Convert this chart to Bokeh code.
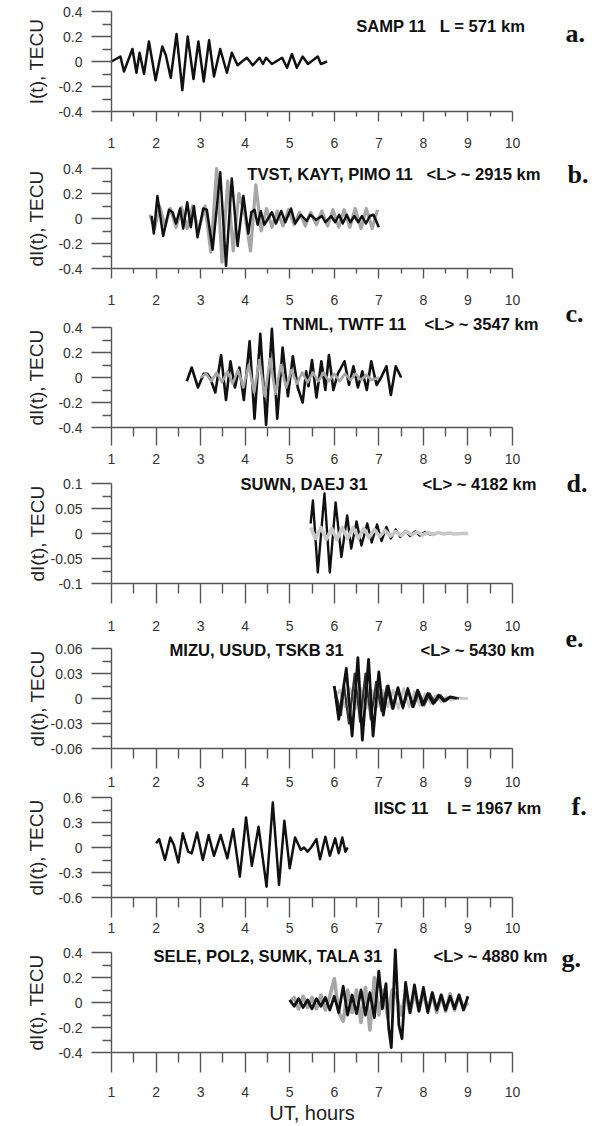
from bokeh.plotting import figure
from bokeh.models import FixedTicker, Label, Range1d, LinearAxis
from bokeh.embed import file_html
from bokeh.resources import INLINE

# ---------------- data ----------------
x_ticks = [1, 2, 3, 4, 5, 6, 7, 8, 9, 10]
x_tick_labels = ["1", "2", "3", "4", "5", "6", "7", "8", "9", "10"]
x_minor = [1.5, 2.5, 3.5, 4.5, 5.5, 6.5, 7.5, 8.5, 9.5]

y_ticks_04 = [-0.4, -0.2, 0, 0.2, 0.4]
y_labels_04 = ["-0.4", "-0.2", "0", "0.2", "0.4"]
y_minor_04 = [-0.3, -0.1, 0.1, 0.3]
y_ticks_01 = [-0.1, -0.05, 0, 0.05, 0.1]
y_labels_01 = ["-0.1", "-0.05", "0", "0.05", "0.1"]
y_minor_01 = [-0.075, -0.025, 0.025, 0.075]
y_ticks_006 = [-0.06, -0.03, 0, 0.03, 0.06]
y_labels_006 = ["-0.06", "-0.03", "0", "0.03", "0.06"]
y_minor_006 = [-0.045, -0.015, 0.015, 0.045]
y_ticks_06 = [-0.6, -0.3, 0, 0.3, 0.6]
y_labels_06 = ["-0.6", "-0.3", "0", "0.3", "0.6"]
y_minor_06 = [-0.45, -0.15, 0.15, 0.45]

# panel a: SAMP 11
a_t = [1.00, 1.20, 1.28, 1.47, 1.56, 1.63, 1.73, 1.84, 1.99, 2.14, 2.22, 2.33, 2.46, 2.59, 2.71, 2.84,
       2.95, 3.07, 3.19, 3.30, 3.44, 3.59, 3.70, 3.83, 3.93, 4.04, 4.17, 4.32, 4.40, 4.47, 4.60, 4.83,
       4.94, 5.05, 5.16, 5.29, 5.41, 5.52, 5.63, 5.70, 5.84]
a_v = [0.00, 0.04, -0.08, 0.10, -0.09, 0.07, -0.10, 0.16, -0.15, 0.12, 0.05, -0.13, 0.22, -0.23, 0.20, -0.14,
       0.16, -0.16, 0.17, -0.12, 0.10, -0.09, 0.07, -0.03, 0.00, 0.03, -0.03, 0.03, -0.02, 0.03, -0.02, 0.03,
       -0.05, 0.06, -0.05, 0.04, -0.02, 0.01, 0.04, -0.02, 0.00]

# panel b: TVST, KAYT, PIMO 11
b1_t = [1.90, 1.95, 2.03, 2.16, 2.29, 2.37, 2.45, 2.54, 2.61, 2.70, 2.78, 2.85, 2.93, 3.06, 3.14, 3.27,
        3.44, 3.57, 3.70, 3.83, 3.96, 4.07, 4.14, 4.21, 4.28, 4.35, 4.43, 4.60, 4.69, 4.81, 4.90, 5.03,
        5.12, 5.25, 5.38, 5.46, 5.59, 5.72, 5.80, 5.93, 6.02, 6.11, 6.19, 6.28, 6.36, 6.45, 6.54, 6.62,
        6.71, 6.80, 6.88, 7.00]
b1_v = [0.02, -0.12, 0.18, -0.14, 0.07, 0.05, -0.04, 0.08, -0.08, 0.13, -0.07, 0.10, -0.15, 0.08, 0.07, -0.25,
        0.37, -0.38, 0.32, -0.22, 0.18, -0.12, 0.05, 0.07, -0.05, 0.06, -0.05, 0.05, -0.04, 0.06, -0.03, 0.08,
        -0.04, 0.03, -0.02, 0.03, -0.01, 0.02, -0.03, 0.02, -0.03, 0.03, -0.04, 0.03, -0.03, 0.02, -0.03, 0.02,
        -0.04, 0.02, 0.03, -0.07]
b2_t = [1.86, 1.97, 2.08, 2.20, 2.32, 2.45, 2.57, 2.70, 2.82, 2.95, 3.10, 3.23, 3.36, 3.48, 3.61, 3.73,
        3.86, 4.00, 4.12, 4.24, 4.36, 4.48, 4.60, 4.72, 4.85, 4.97, 5.10, 5.22, 5.35, 5.47, 5.60, 5.72,
        5.85, 5.97, 6.10, 6.22, 6.35, 6.47, 6.60, 6.72, 6.85, 6.97]
b2_v = [0.03, -0.08, 0.10, -0.06, 0.08, -0.07, 0.09, -0.08, 0.10, -0.10, 0.10, -0.27, 0.40, -0.35, 0.30, -0.26,
        0.20, 0.02, -0.26, 0.27, -0.10, 0.08, -0.07, 0.06, -0.06, 0.07, -0.05, 0.05, -0.06, 0.05, -0.05, 0.06,
        -0.06, 0.07, -0.07, 0.07, -0.07, 0.08, -0.08, 0.08, -0.08, 0.07]

# panel c: TNML, TWTF 11
c1_t = [2.69, 2.80, 2.94, 3.07, 3.15, 3.21, 3.33, 3.46, 3.57, 3.67, 3.77, 3.87, 3.97, 4.10, 4.21, 4.34,
        4.47, 4.60, 4.72, 4.84, 4.96, 5.07, 5.18, 5.29, 5.37, 5.42, 5.50, 5.60, 5.71, 5.80, 5.88, 5.98,
        6.08, 6.23, 6.33, 6.43, 6.53, 6.63, 6.73, 6.83, 6.95, 7.05, 7.17, 7.27, 7.38, 7.50]
c1_v = [-0.03, 0.08, -0.08, 0.03, 0.03, 0.00, -0.12, 0.18, -0.18, 0.13, -0.08, 0.08, -0.18, 0.29, -0.33, 0.35,
        -0.38, 0.39, -0.33, 0.24, -0.15, 0.17, -0.08, -0.20, 0.05, -0.07, 0.14, -0.16, 0.13, -0.10, 0.18, -0.10,
        0.03, 0.13, -0.06, 0.09, -0.08, 0.05, -0.10, 0.13, -0.06, 0.00, 0.09, -0.14, 0.09, 0.00]
c2_t = [3.00, 3.12, 3.24, 3.36, 3.48, 3.60, 3.72, 3.84, 3.96, 4.08, 4.20, 4.32, 4.44, 4.56, 4.68, 4.80,
        4.92, 5.04, 5.16, 5.28, 5.40, 5.52, 5.64, 5.76, 5.88, 6.00, 6.12, 6.24, 6.36, 6.48, 6.60, 6.72,
        6.84, 7.00]
c2_v = [0.00, 0.03, -0.03, 0.04, -0.04, 0.05, -0.05, 0.06, -0.08, 0.10, -0.12, 0.14, -0.15, 0.15, -0.13, 0.10,
        -0.08, 0.06, -0.05, 0.04, -0.04, 0.04, -0.03, 0.04, -0.03, 0.03, -0.03, 0.03, -0.02, 0.03, -0.02, 0.02,
        -0.02, 0.00]

# panel d: SUWN, DAEJ 31
d1_t = [5.47, 5.52, 5.63, 5.78, 5.90, 6.03, 6.16, 6.29, 6.38, 6.50, 6.61, 6.74, 6.84, 6.96, 7.06, 7.17,
        7.27, 7.38, 7.48, 7.60, 7.70, 7.82, 7.92, 8.04, 8.15, 8.22]
d1_v = [0.020, 0.066, -0.078, 0.080, -0.078, 0.062, -0.047, 0.036, -0.030, 0.024, -0.024, 0.020, -0.018,
        0.018, -0.015, 0.013, -0.010, 0.008, -0.007, 0.005, -0.005, 0.004, -0.004, 0.003, -0.002, 0.000]
d2_t = [5.47, 5.58, 5.70, 5.82, 5.94, 6.06, 6.18, 6.30, 6.42, 6.54, 6.66, 6.78, 6.90, 7.02, 7.14, 7.26,
        7.38, 7.50, 7.62, 7.74, 7.86, 7.98, 8.10, 8.22, 8.34, 8.46, 8.58, 8.70, 8.85, 9.00]
d2_v = [0.012, -0.010, 0.012, -0.012, 0.010, -0.012, 0.012, -0.010, 0.012, -0.010, 0.010, -0.008, 0.008,
        -0.006, 0.006, -0.005, 0.004, -0.004, 0.004, -0.003, 0.003, -0.003, 0.002, -0.002, 0.002, -0.001,
        0.001, -0.001, 0.000, 0.000]

# panel e: MIZU, USUD, TSKB 31
e1_t = [6.00, 6.10, 6.27, 6.40, 6.53, 6.63, 6.77, 6.87, 7.00, 7.10, 7.21, 7.32, 7.43, 7.54, 7.65, 7.76,
        7.87, 7.98, 8.10, 8.22, 8.34, 8.46, 8.60, 8.75]
e1_v = [0.015, -0.025, 0.036, -0.045, 0.049, -0.050, 0.047, -0.045, 0.032, -0.020, 0.015, -0.012, 0.013,
        -0.010, 0.012, -0.010, 0.010, -0.008, 0.006, -0.006, 0.004, -0.003, 0.002, 0.000]
e2_t = [6.02, 6.15, 6.22, 6.33, 6.46, 6.58, 6.70, 6.82, 6.94, 7.06, 7.18, 7.30, 7.42, 7.54, 7.66, 7.78,
        7.90, 8.02, 8.14, 8.26, 8.38, 8.50, 8.62, 8.80]
e2_v = [0.010, -0.020, 0.015, -0.030, 0.030, -0.028, 0.030, -0.025, 0.020, -0.015, 0.015, -0.012, 0.012,
        -0.012, 0.010, -0.010, 0.008, -0.008, 0.006, -0.005, 0.004, -0.003, 0.002, 0.000]
e3_t = [6.00, 6.12, 6.24, 6.36, 6.48, 6.60, 6.72, 6.84, 6.96, 7.08, 7.20, 7.32, 7.44, 7.56, 7.68, 7.80,
        7.92, 8.04, 8.16, 8.28, 8.40, 8.52, 8.64, 8.76, 8.88, 9.00]
e3_v = [0.000, 0.010, -0.010, 0.012, -0.012, 0.012, -0.012, 0.010, -0.010, 0.010, -0.010, 0.010, -0.012,
        0.012, -0.010, 0.008, -0.008, 0.006, -0.006, 0.004, -0.004, 0.002, -0.002, 0.001, 0.000, 0.000]

# panel f: IISC 11
f1_t = [2.00, 2.07, 2.20, 2.32, 2.40, 2.50, 2.60, 2.72, 2.80, 2.92, 3.05, 3.18, 3.30, 3.45, 3.60, 3.73,
        3.88, 4.02, 4.15, 4.30, 4.48, 4.62, 4.76, 4.88, 5.00, 5.12, 5.25, 5.32, 5.40, 5.48, 5.60, 5.68,
        5.80, 5.90, 6.02, 6.10, 6.18, 6.25, 6.30]
f1_v = [0.05, 0.10, -0.15, 0.12, 0.03, -0.18, 0.17, -0.05, -0.07, 0.18, -0.15, 0.15, -0.10, 0.15, -0.13, 0.22,
        -0.35, 0.36, -0.22, 0.25, -0.47, 0.54, -0.45, 0.32, -0.25, 0.12, -0.03, 0.00, -0.05, 0.00, 0.10, -0.14,
        0.13, -0.10, 0.11, -0.07, 0.12, -0.05, 0.00]

# panel g: SELE, POL2, SUMK, TALA 31
g1_t = [5.00, 5.10, 5.20, 5.30, 5.40, 5.50, 5.60, 5.70, 5.80, 5.90, 6.00, 6.10, 6.20, 6.30, 6.40, 6.50,
        6.60, 6.70, 6.80, 6.90, 7.00, 7.08, 7.16, 7.22, 7.28, 7.37, 7.45, 7.52, 7.60, 7.70, 7.80, 7.90,
        8.00, 8.10, 8.20, 8.30, 8.40, 8.50, 8.60, 8.70, 8.80, 8.90, 9.00]
g1_v = [0.02, -0.03, 0.03, -0.04, 0.02, -0.05, 0.03, -0.03, 0.04, -0.06, 0.05, -0.08, 0.13, -0.10, 0.06, -0.09,
        0.10, -0.10, 0.08, -0.12, 0.25, -0.05, 0.15, -0.20, -0.36, 0.42, -0.18, -0.29, 0.16, -0.08, 0.14, -0.07,
        0.12, -0.08, 0.08, -0.06, 0.06, -0.06, 0.05, -0.05, 0.06, -0.06, 0.05]
g2_t = [5.00, 5.10, 5.20, 5.30, 5.40, 5.50, 5.60, 5.70, 5.80, 5.90, 6.00, 6.10, 6.20, 6.30, 6.40, 6.50,
        6.60, 6.70, 6.80, 6.90, 7.00, 7.10, 7.20, 7.30, 7.40, 7.50, 7.60, 7.70, 7.80, 7.90, 8.00, 8.10,
        8.20, 8.30, 8.40, 8.50, 8.60, 8.70, 8.80, 8.90, 9.00]
g2_v = [0.00, 0.04, -0.05, 0.05, -0.04, 0.04, -0.05, 0.06, -0.06, 0.05, 0.19, -0.08, -0.15, 0.10, -0.08, 0.10,
        -0.16, 0.12, -0.22, 0.20, -0.10, 0.10, -0.12, 0.10, 0.05, -0.10, 0.08, -0.08, 0.08, -0.06, 0.08, -0.07,
        0.07, -0.08, 0.06, -0.07, 0.07, -0.06, 0.06, -0.05, 0.00]

# ---------------- styling / layout ----------------
W, H = 598, 1126
AX_L = 111          # px of x = 1
AX_W = 401          # px from x = 1 to x = 10
AX_H = 100          # px from ymin to ymax of each panel
UNIT = AX_W / 9.0
AX = "#555555"
FONT = "Liberation Sans"
BLACK = "#111111"
SP = "\u00a0"


def xd(px):
    return 1 + (px - AX_L) / UNIT


p = figure(width=W, height=H, x_range=Range1d(xd(0), xd(W)), y_range=Range1d(H, 0),
           output_backend="svg", toolbar_location=None,
           x_axis_location=None, y_axis_location=None,
           min_border_left=0, min_border_right=0, min_border_top=0, min_border_bottom=0)
p.outline_line_color = None
p.background_fill_color = "white"
p.border_fill_color = "white"
p.xgrid.visible = False
p.ygrid.visible = False
p.extra_y_ranges = {}


def panel(name, ax_top, yr, yticks, ylabels, yminor, ylabel, xt_out, xm_out, xstand, ylab_stand,
          xlabel=None, xlab_stand=0):
    vpp = (yr[1] - yr[0]) / AX_H
    rng = Range1d(yr[0] - (H - ax_top - AX_H) * vpp, yr[1] + ax_top * vpp)
    ranges = dict(p.extra_y_ranges)
    ranges[name] = rng
    p.extra_y_ranges = ranges

    ya = LinearAxis(y_range_name=name, fixed_location=1, bounds=yr,
                    ticker=FixedTicker(ticks=yticks, minor_ticks=yminor),
                    major_label_overrides={t: s for t, s in zip(yticks, ylabels)},
                    major_tick_in=0, minor_tick_in=0, major_tick_out=20, minor_tick_out=9,
                    major_label_standoff=9, axis_label=ylabel, axis_label_standoff=ylab_stand,
                    axis_label_text_font=FONT, axis_label_text_font_size="19px",
                    axis_label_text_font_style="normal", axis_label_text_color="#222222")
    xa = LinearAxis(y_range_name=name, fixed_location=yr[0], bounds=(1, 10),
                    ticker=FixedTicker(ticks=x_ticks, minor_ticks=x_minor),
                    major_label_overrides={t: s for t, s in zip(x_ticks, x_tick_labels)},
                    major_tick_in=0, minor_tick_in=0, major_tick_out=xt_out, minor_tick_out=xm_out,
                    major_label_standoff=xstand)
    if xlabel:
        xa.axis_label = xlabel
        xa.axis_label_standoff = xlab_stand
        xa.axis_label_text_font = FONT
        xa.axis_label_text_font_size = "20px"
        xa.axis_label_text_font_style = "normal"
        xa.axis_label_text_color = "#222222"
    for ax in (xa, ya):
        ax.axis_line_color = AX
        ax.axis_line_width = 1.4
        ax.major_tick_line_color = AX
        ax.major_tick_line_width = 1.4
        ax.minor_tick_line_color = AX
        ax.minor_tick_line_width = 1.4
        ax.major_label_text_font = FONT
        ax.major_label_text_font_size = "14px"
        ax.major_label_text_color = "#333333"
    p.add_layout(ya, "left")
    p.add_layout(xa, "below")

    def yd(py):
        return yr[1] - (py - ax_top) * vpp
    return yd


def add_text(name, yd, px, py, text, align="right"):
    p.add_layout(Label(x=xd(px), y=yd(py), y_range_name=name, text=text,
                       text_font=FONT, text_font_size="16.6px", text_font_style="bold",
                       text_align=align, text_baseline="middle", text_color="#111111"))


def add_letter(name, yd, px, py, text):
    p.add_layout(Label(x=xd(px), y=yd(py), y_range_name=name, text=text,
                       text_font="Liberation Serif", text_font_size="26px", text_font_style="bold",
                       text_align="left", text_baseline="middle", text_color="#111111"))


def trace(name, t, v, color, width):
    p.line(t, v, y_range_name=name, line_color=color, line_width=width, line_join="round")


# a
yd = panel("a", 11, (-0.4, 0.4), y_ticks_04, y_labels_04, y_minor_04, "I(t), TECU", 10, 5, 16, 8)
trace("a", a_t, a_v, BLACK, 2.5)
add_text("a", yd, 525, 26, "SAMP 11" + SP * 3 + "L = 571 km")
add_letter("a", yd, 565, 33, "a.")

# b
yd = panel("b", 168, (-0.4, 0.4), y_ticks_04, y_labels_04, y_minor_04, "dI(t), TECU", 10, 5, 16, 8)
trace("b", b2_t, b2_v, "#a6a6a6", 3.2)
trace("b", b1_t, b1_v, BLACK, 2.5)
add_text("b", yd, 540, 174, "TVST, KAYT, PIMO 11" + SP * 3 + "<L> ~ 2915 km")
add_letter("b", yd, 567, 174, "b.")

# c
yd = panel("c", 327, (-0.4, 0.4), y_ticks_04, y_labels_04, y_minor_04, "dI(t), TECU", 18, 9, 8, 8)
trace("c", c1_t, c1_v, BLACK, 2.6)
trace("c", c2_t, c2_v, "#a6a6a6", 2.6)
add_text("c", yd, 538, 324, "TNML, TWTF 11" + SP * 4 + "<L> ~ 3547 km")
add_letter("c", yd, 565, 313, "c.")

# d
yd = panel("d", 483, (-0.1, 0.1), y_ticks_01, y_labels_01, y_minor_01, "dI(t), TECU", 20, 10, 17, 0)
trace("d", d1_t, d1_v, BLACK, 2.4)
trace("d", d2_t, d2_v, "#c8c8c8", 3.6)
add_text("d", yd, 240, 484, "SUWN, DAEJ 31", align="left")
add_text("d", yd, 536, 484, "<L> ~ 4182 km")
add_letter("d", yd, 566, 483, "d.")

# e
yd = panel("e", 648, (-0.06, 0.06), y_ticks_006, y_labels_006, y_minor_006, "dI(t), TECU", 20, 10, 8, 0)
trace("e", e3_t, e3_v, "#c4c4c4", 2.6)
trace("e", e2_t, e2_v, "#333333", 2.2)
trace("e", e1_t, e1_v, BLACK, 2.8)
add_text("e", yd, 169, 650, "MIZU, USUD, TSKB 31", align="left")
add_text("e", yd, 534, 650, "<L> ~ 5430 km")
add_letter("e", yd, 565, 638, "e.")

# f
yd = panel("f", 797, (-0.6, 0.6), y_ticks_06, y_labels_06, y_minor_06, "dI(t), TECU", 20, 10, 5, 8)
trace("f", f1_t, f1_v, BLACK, 2.5)
add_text("f", yd, 541, 808, "IISC 11" + SP * 4 + "L = 1967 km")
add_letter("f", yd, 571, 806, "f.")

# g
yd = panel("g", 952, (-0.4, 0.4), y_ticks_04, y_labels_04, y_minor_04, "dI(t), TECU", 20, 10, 14, 8,
           xlabel="UT, hours", xlab_stand=2)
trace("g", g2_t, g2_v, "#a6a6a6", 3.6)
trace("g", g1_t, g1_v, BLACK, 2.8)
add_text("g", yd, 153, 956, "SELE, POL2, SUMK, TALA 31", align="left")
add_text("g", yd, 547, 956, "<L> ~ 4880 km")
add_letter("g", yd, 561, 958, "g.")

open("out.html", "w").write(file_html(p, INLINE))
